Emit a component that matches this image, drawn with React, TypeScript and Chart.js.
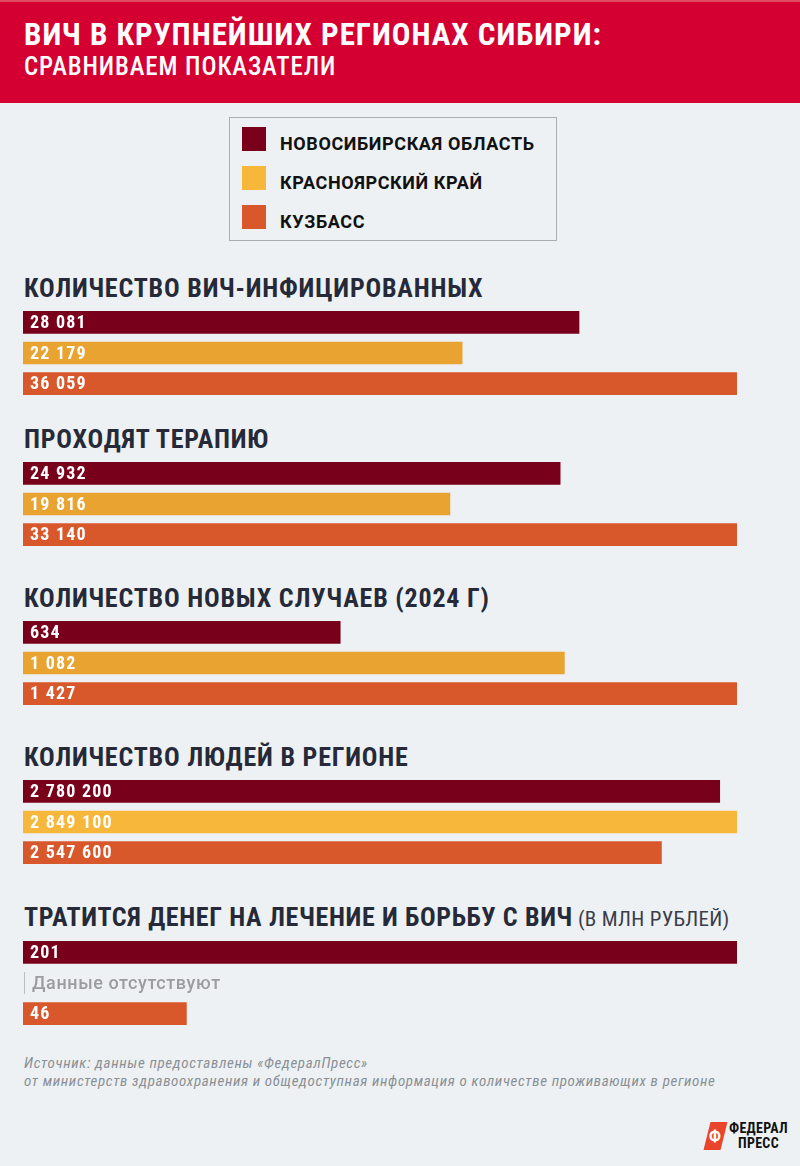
import React, { useEffect, useRef } from "react";
import { Chart, registerables } from "chart.js";

Chart.register(...registerables);

// ---------- DATA ----------
const regions = ["Новосибирская область", "Красноярский край", "Кузбасс"];
const infected = [28081, 22179, 36059];
const therapy = [24932, 19816, 33140];
const newCases = [634, 1082, 1427];
const population = [2780200, 2849100, 2547600];
const spending: (number | null)[] = [201, null, 46];

const groupTitles = [
  "КОЛИЧЕСТВО ВИЧ-ИНФИЦИРОВАННЫХ",
  "ПРОХОДЯТ ТЕРАПИЮ",
  "КОЛИЧЕСТВО НОВЫХ СЛУЧАЕВ (2024 Г)",
  "КОЛИЧЕСТВО ЛЮДЕЙ В РЕГИОНЕ",
  "ТРАТИТСЯ ДЕНЕГ НА ЛЕЧЕНИЕ И БОРЬБУ С ВИЧ",
];
const spendingUnit = "(В МЛН РУБЛЕЙ)";
const missingText = "Данные отсутствуют";

// ---------- STYLE ----------
const COND = '"Roboto Condensed", "Liberation Sans Narrow", "DejaVu Sans Condensed", "Arial Narrow", sans-serif';
const RED = "#79001a";
const ORANGE = "#d8572b";
const YELLOW_A = "#e8a331";
const YELLOW_B = "#f6b73b";
const BG = "#edf1f4";

const fmt = (v: number) => String(v).replace(/\B(?=(\d{3})+(?!\d))/g, " ");

const labelPlugin = {
  id: "barLabels",
  afterDatasetsDraw(chart: any) {
    const ctx = chart.ctx;
    const data = chart.data.datasets[0].data;
    const xScale = chart.scales.x;
    ctx.save();
    ctx.textBaseline = "middle";
    ctx.textAlign = "left";
    data.forEach((v: any, i: number) => {
      const y = chart.scales.y.getPixelForValue(i);
      const x0 = xScale.getPixelForValue(0);
      if (v === null || v === undefined) {
        ctx.strokeStyle = "#b9bec3";
        ctx.lineWidth = 1;
        ctx.beginPath();
        ctx.moveTo(x0 + 1.5, y - 11);
        ctx.lineTo(x0 + 1.5, y + 11);
        ctx.stroke();
        ctx.fillStyle = "#9a9c9f";
        ctx.font = '500 18px Roboto, "Noto Sans", sans-serif';
        (ctx as any).letterSpacing = "0.6px";
        ctx.fillText(missingText, x0 + 9, y + 1);
      } else {
        ctx.fillStyle = "#ffffff";
        ctx.font = "bold 18px " + COND;
        (ctx as any).letterSpacing = "1.2px";
        ctx.fillText(fmt(v), x0 + 7, y + 1);
      }
    });
    ctx.restore();
  },
};

function BarGroup({ values, colors, top }: { values: (number | null)[]; colors: string[]; top: number }) {
  const ref = useRef<HTMLCanvasElement | null>(null);
  useEffect(() => {
    if (!ref.current) return;
    const max = Math.max(...(values.filter((v) => v !== null) as number[]));
    const chart = new Chart(ref.current, {
      type: "bar",
      data: {
        labels: regions,
        datasets: [
          {
            data: values as any,
            backgroundColor: colors,
            barThickness: 22,
            borderWidth: 0,
          },
        ],
      },
      options: {
        indexAxis: "y",
        responsive: false,
        animation: false,
        devicePixelRatio: 1,
        layout: { padding: 0 },
        plugins: { legend: { display: false }, tooltip: { enabled: false } },
        scales: {
          x: { display: false, min: 0, max: max },
          y: { display: false },
        },
      },
      plugins: [labelPlugin],
    });
    return () => chart.destroy();
  }, []);
  return (
    <canvas
      ref={ref}
      width={714}
      height={92}
      style={{ position: "absolute", left: 23, top, width: 714, height: 92 }}
    />
  );
}

const titleStyle = (baseline: number, spacing: number): React.CSSProperties => ({
  position: "absolute",
  left: 24,
  top: baseline - 25,
  fontFamily: COND,
  fontWeight: 700,
  fontSize: 26,
  letterSpacing: spacing + "px",
  lineHeight: "30px",
  color: "#262a38",
  whiteSpace: "nowrap",
});

export default function App() {
  const baselines = [298, 449, 608, 767, 927];
  const barTops = [311, 462, 621, 780, 941];
  const groups: { values: (number | null)[]; colors: string[] }[] = [
    { values: infected, colors: [RED, YELLOW_A, ORANGE] },
    { values: therapy, colors: [RED, YELLOW_A, ORANGE] },
    { values: newCases, colors: [RED, YELLOW_A, ORANGE] },
    { values: population, colors: [RED, YELLOW_B, ORANGE] },
    { values: spending, colors: [RED, YELLOW_A, ORANGE] },
  ];
  const legendColors = [RED, YELLOW_B, ORANGE];
  return (
    <div
      style={{
        position: "absolute",
        left: 0,
        top: 0,
        width: 800,
        height: 1166,
        background: BG,
        overflow: "hidden",
      }}
    >
      {/* header */}
      <div style={{ position: "absolute", left: 0, top: 0, width: 800, height: 103, background: "#d50032" }} />
      <div style={{ position: "absolute", left: 0, top: 0, width: 800, height: 2, background: "#e04a62" }} />
      <div
        style={{
          position: "absolute",
          left: 24,
          top: 17,
          fontFamily: COND,
          fontWeight: 700,
          fontSize: 31,
          letterSpacing: "1.0px",
          lineHeight: "36px",
          color: "#ffffff",
          whiteSpace: "nowrap",
        }}
      >
        ВИЧ В КРУПНЕЙШИХ РЕГИОНАХ СИБИРИ:
      </div>
      <div
        style={{
          position: "absolute",
          left: 24,
          top: 52,
          fontFamily: COND,
          fontWeight: 500,
          fontSize: 25,
          letterSpacing: "0.9px",
          lineHeight: "30px",
          color: "#ffffff",
          whiteSpace: "nowrap",
        }}
      >
        СРАВНИВАЕМ ПОКАЗАТЕЛИ
      </div>

      {/* legend */}
      <div
        style={{
          position: "absolute",
          left: 229,
          top: 117,
          width: 326,
          height: 122,
          border: "1px solid #a8aeb3",
        }}
      />
      {regions.map((r, i) => (
        <React.Fragment key={r}>
          <div
            style={{
              position: "absolute",
              left: 242,
              top: 127 + i * 39,
              width: 24,
              height: 24,
              background: legendColors[i],
            }}
          />
          <div
            style={{
              position: "absolute",
              left: 280,
              top: 133 + i * 39,
              fontFamily: 'Roboto, "Noto Sans", sans-serif',
              fontWeight: 700,
              fontSize: 18,
              letterSpacing: "0.6px",
              lineHeight: "22px",
              color: "#111111",
              whiteSpace: "nowrap",
            }}
          >
            {r.toUpperCase()}
          </div>
        </React.Fragment>
      ))}

      {/* groups */}
      {groups.map((g, i) => (
        <React.Fragment key={i}>
          <div style={titleStyle(baselines[i], i === 4 ? 0.65 : 0.8)}>
            {groupTitles[i]}
            {i === 4 ? (
              <span style={{ fontWeight: 400, fontSize: 21, letterSpacing: "0.3px", color: "#3a3d4a" }}> {spendingUnit}</span>
            ) : null}
          </div>
          <BarGroup values={g.values} colors={g.colors} top={barTops[i] - 4.33} />
        </React.Fragment>
      ))}

      {/* footer */}
      <div
        style={{
          position: "absolute",
          left: 24,
          top: 1054,
          fontFamily: COND,
          fontStyle: "italic",
          fontSize: 15,
          letterSpacing: "0.65px",
          lineHeight: "18px",
          color: "#8b9095",
          whiteSpace: "nowrap",
        }}
      >
        Источник: данные предоставлены «ФедералПресс»
        <br />
        от министерств здравоохранения и общедоступная информация о количестве проживающих в регионе
      </div>

      {/* logo */}
      <div
        style={{
          position: "absolute",
          left: 707,
          top: 1122,
          width: 17,
          height: 28,
          background: "#e8452c",
          transform: "skewX(-14deg)",
        }}
      />
      <div
        style={{
          position: "absolute",
          left: 704,
          top: 1126,
          width: 22,
          textAlign: "center",
          fontFamily: COND,
          fontWeight: 700,
          fontSize: 17,
          lineHeight: "20px",
          color: "#ffffff",
        }}
      >
        Ф
      </div>
      <div
        style={{
          position: "absolute",
          left: 729,
          top: 1121,
          fontFamily: COND,
          fontWeight: 700,
          fontSize: 14,
          lineHeight: "15px",
          letterSpacing: "0.3px",
          color: "#111111",
          textAlign: "center",
        }}
      >
        ФЕДЕРАЛ
        <br />
        ПРЕСС
      </div>
    </div>
  );
}
